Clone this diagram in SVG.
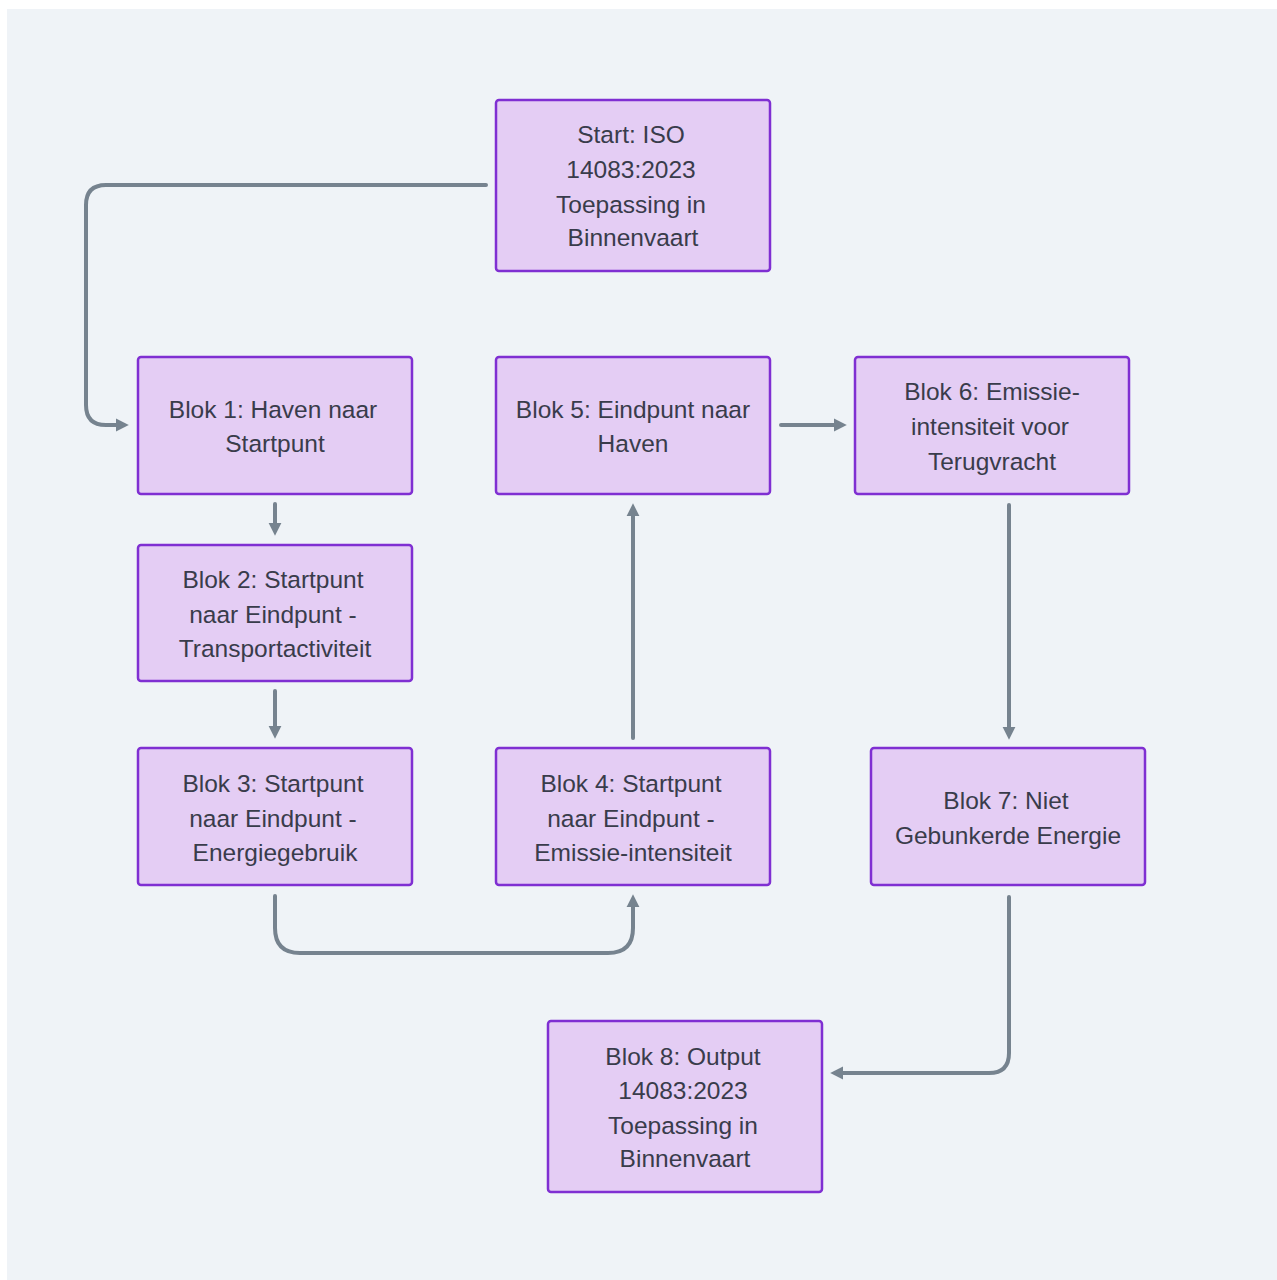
<svg xmlns="http://www.w3.org/2000/svg" width="1277" height="1280" viewBox="0 0 1277 1280">
<style>
.node rect{fill:#e4cdf4;stroke:#7f2fd2;stroke-width:2.5}
.node text{font-family:"Liberation Sans",Arial,sans-serif;font-size:24.5px;fill:#393c4b;text-anchor:middle}
.edge{fill:none;stroke:#76838f;stroke-width:4;stroke-linecap:round}
</style>
<defs>
<marker id="arr" viewBox="0 0 10 10" refX="0" refY="5" markerWidth="3.2" markerHeight="3.8" orient="auto" markerUnits="strokeWidth">
<path d="M0,0 L10,5 L0,10 z" fill="#76838f"/>
</marker>
</defs>
<rect x="7" y="9" width="1270" height="1271" fill="#eff3f7"/>
<g id="connectors">
<path class="edge" marker-end="url(#arr)" d="M486,185 H106 Q86,185 86,205 V405 Q86,425 106,425 H116"/>
<path class="edge" marker-end="url(#arr)" d="M275,504 V523"/>
<path class="edge" marker-end="url(#arr)" d="M275,691 V726"/>
<path class="edge" marker-end="url(#arr)" d="M275,896 V928 Q275,953 300,953 H608 Q633,953 633,928 V907"/>
<path class="edge" marker-end="url(#arr)" d="M633,738 V516"/>
<path class="edge" marker-end="url(#arr)" d="M781,425 H834"/>
<path class="edge" marker-end="url(#arr)" d="M1009,505 V727"/>
<path class="edge" marker-end="url(#arr)" d="M1009,897 V1053 Q1009,1073 989,1073 H843"/>
</g>
<g id="start" class="node"><rect x="496" y="100" width="274" height="171" rx="3"/>
<text x="631" y="143">Start: ISO</text><text x="631" y="178">14083:2023</text><text x="631" y="213">Toepassing in</text><text x="633" y="246">Binnenvaart</text></g>
<g id="blok1" class="node"><rect x="138" y="357" width="274" height="137" rx="3"/>
<text x="273" y="418">Blok 1: Haven naar</text><text x="275" y="452">Startpunt</text></g>
<g id="blok2" class="node"><rect x="138" y="545" width="274" height="136" rx="3"/>
<text x="273" y="588">Blok 2: Startpunt</text><text x="273" y="623">naar Eindpunt -</text><text x="275" y="657">Transportactiviteit</text></g>
<g id="blok3" class="node"><rect x="138" y="748" width="274" height="137" rx="3"/>
<text x="273" y="792">Blok 3: Startpunt</text><text x="273" y="827">naar Eindpunt -</text><text x="275" y="861">Energiegebruik</text></g>
<g id="blok4" class="node"><rect x="496" y="748" width="274" height="137" rx="3"/>
<text x="631" y="792">Blok 4: Startpunt</text><text x="631" y="827">naar Eindpunt -</text><text x="633" y="861">Emissie-intensiteit</text></g>
<g id="blok5" class="node"><rect x="496" y="357" width="274" height="137" rx="3"/>
<text x="633" y="418">Blok 5: Eindpunt naar</text><text x="633" y="452">Haven</text></g>
<g id="blok6" class="node"><rect x="855" y="357" width="274" height="137" rx="3"/>
<text x="992" y="400">Blok 6: Emissie-</text><text x="990" y="435">intensiteit voor</text><text x="992" y="470">Terugvracht</text></g>
<g id="blok7" class="node"><rect x="871" y="748" width="274" height="137" rx="3"/>
<text x="1006" y="809">Blok 7: Niet</text><text x="1008" y="844">Gebunkerde Energie</text></g>
<g id="blok8" class="node"><rect x="548" y="1021" width="274" height="171" rx="3"/>
<text x="683" y="1065">Blok 8: Output</text><text x="683" y="1099">14083:2023</text><text x="683" y="1134">Toepassing in</text><text x="685" y="1167">Binnenvaart</text></g>
</svg>
